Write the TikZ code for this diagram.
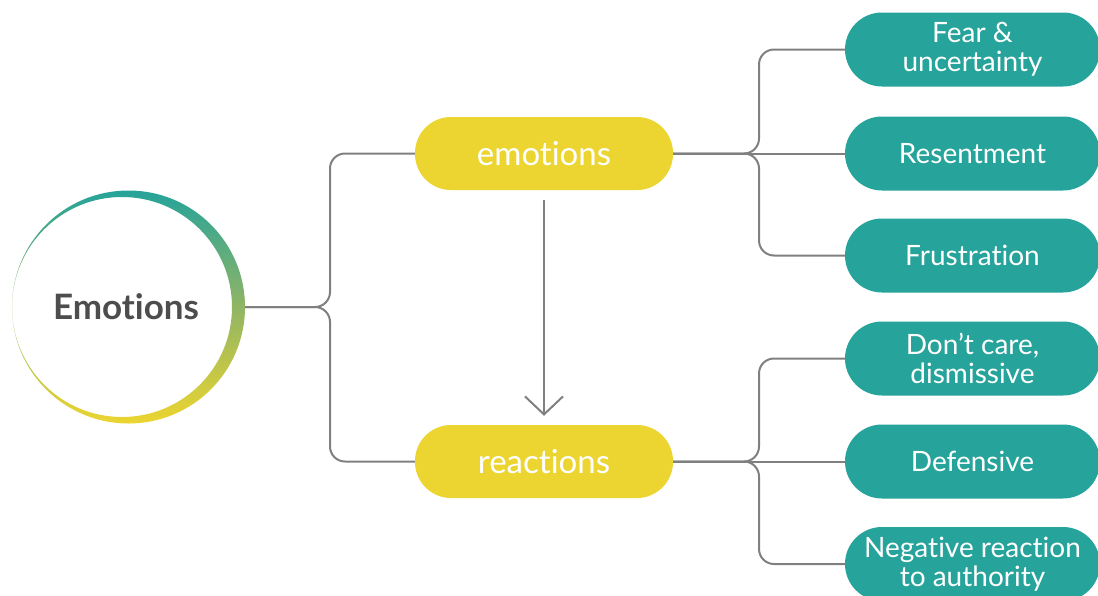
\documentclass[tikz,border=0pt]{standalone}
\usepackage{fontspec}
\setmainfont{Lato}[Ligatures=NoCommon]
\usetikzlibrary{arrows.meta}
\definecolor{mindteal}{RGB}{38,163,154}
\definecolor{mindyellow}{RGB}{236,213,48}
\definecolor{linegray}{RGB}{128,128,128}
\definecolor{textgray}{RGB}{77,77,77}
\tikzset{
	% ---- default
	every node/.style={font=\normalsize},
	% ---- custom
	link/.style={draw=linegray, line width=2pt, rounded corners=15pt},
	flow/.style={draw=linegray, line width=2pt, -{Straight Barb[length=18pt, width=38pt]}, shorten <=10pt, shorten >=9pt},
	topic/.style={fill=mindyellow, text=white, rectangle, rounded corners=36pt, minimum width=258pt, minimum height=73pt, font=\fontsize{33}{38}\selectfont},
	leaf/.style={fill=mindteal, text=white, rectangle, rounded corners=37pt, minimum width=255pt, minimum height=74pt, align=center, font=\fontsize{28}{29}\selectfont},
}

\begin{document}
\begin{tikzpicture}[x=1pt, y=-1pt]

\useasboundingbox (0,0) rectangle (1098,595);

% centre circle %{{{2

	\shade[top color=mindteal, bottom color=mindyellow, middle color=mindteal!45!mindyellow!85!gray, even odd rule]
		(128.5,307) circle (116.5) (122,307) circle (110);
	\node (emo) [circle, inner sep=0pt, minimum size=233pt, text=textgray,
		font=\fontsize{35}{40}\selectfont\bfseries] at (126,307) {Emotions};

% topics %{{{2

	\node (emotions) [topic] at (544,153.5) {emotions};
	\node (reactions) [topic] at (544,461.5) {reactions};

% leaves %{{{2

	\node (fear) [leaf] at (972.5,49.5) {Fear \&\\uncertainty};
	\node (resent) [leaf] at (972.5,153.5) {Resentment};
	\node (frust) [leaf] at (972.5,255.5) {Frustration};
	\node (dontcare) [leaf] at (972.5,358.5) {Don't care,\\dismissive};
	\node (defensive) [leaf] at (972.5,461.5) {Defensive};
	\node (negative) [leaf] at (972.5,564) {Negative reaction\\to authority};

% split points %{{{2

	\coordinate (lsplit) at (330,307);
	\coordinate (esplit) at (759,153.5);
	\coordinate (rsplit) at (759,461.5);

% connectors %{{{2

	\draw[link] (emo.east) ++(2.5,0) -- (lsplit) |- (emotions.west);
	\draw[link] (emo.east) ++(2.5,0) -- (lsplit) |- (reactions.west);

	\draw[link] (emotions.east) -- (esplit) |- (fear.west);
	\draw[link] (emotions.east) -- (resent.west);
	\draw[link] (emotions.east) -- (esplit) |- (frust.west);

	\draw[link] (reactions.east) -- (rsplit) |- (dontcare.west);
	\draw[link] (reactions.east) -- (defensive.west);
	\draw[link] (reactions.east) -- (rsplit) |- (negative.west);

	\draw[flow] (emotions) -- (reactions);

% closing %{{{2

\end{tikzpicture}
\end{document}
